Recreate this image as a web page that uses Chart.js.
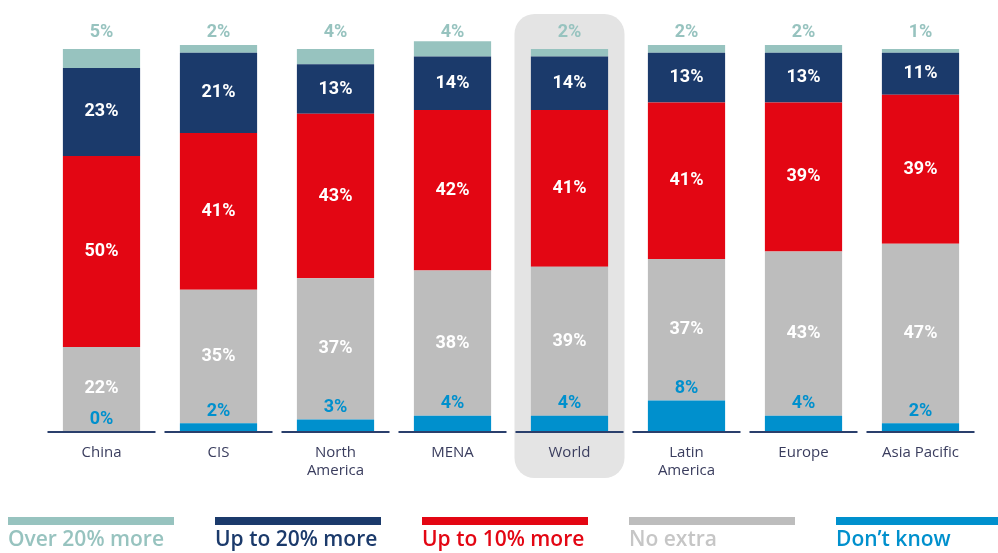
<!DOCTYPE html>
<html>
<head>
<meta charset="utf-8">
<script src="https://cdn.jsdelivr.net/npm/chart.js@4/dist/chart.umd.min.js"></script>
<style>
  html, body { margin: 0; padding: 0; background: #fff; }
  #wrap { width: 998px; height: 553px; position: relative; }
</style>
</head>
<body>
<div id="wrap"><canvas id="priceChart"></canvas></div>
<script>
const categories = ['China', 'CIS', ['North', 'America'], 'MENA', 'World', ['Latin', 'America'], 'Europe', 'Asia Pacific'];
const dontKnow = [0, 2, 3, 4, 4, 8, 4, 2];
const noExtra = [22, 35, 37, 38, 39, 37, 43, 47];
const upTo10 = [50, 41, 43, 42, 41, 41, 39, 39];
const upTo20 = [23, 21, 13, 14, 14, 13, 13, 11];
const over20 = [5, 2, 4, 4, 2, 2, 2, 1];
const seriesNames = ['Don\u2019t know', 'No extra', 'Up to 10% more', 'Up to 20% more', 'Over 20% more'];
const seriesColors = ['#0090cd', '#bdbdbd', '#e30613', '#1b3a6b', '#97c3bf'];
const highlightIndex = 4;

// grey rounded box behind the World column
const highlightBox = {
    id: 'highlightBox',
    beforeDraw(chart) {
        const ctx = chart.ctx;
        const x = chart.scales.x.getPixelForValue(highlightIndex);
        ctx.save();
        ctx.fillStyle = '#e4e4e4';
        ctx.beginPath();
        ctx.roundRect(x - 55, 14, 110, 464, 20);
        ctx.fill();
        ctx.restore();
    }
};

const valueLabels = {
    id: 'valueLabels',
    afterDatasetsDraw(chart) {
        const ctx = chart.ctx;
        const xs = chart.scales.x, ys = chart.scales.y;
        ctx.save();
        // short base lines under each bar
        ctx.strokeStyle = '#2a3f6c';
        ctx.lineWidth = 2;
        const y0 = ys.getPixelForValue(0) + 1;
        categories.forEach((c, j) => {
            const x = xs.getPixelForValue(j);
            ctx.beginPath();
            ctx.moveTo(x - 54, y0);
            ctx.lineTo(x + 54, y0);
            ctx.stroke();
        });
        ctx.font = '700 18px Roboto';
        ctx.textAlign = 'center';
        ctx.textBaseline = 'middle';
        const topY = ys.getPixelForValue(104.3);
        chart.data.datasets.forEach((ds, i) => {
            const meta = chart.getDatasetMeta(i);
            meta.data.forEach((bar, j) => {
                const txt = ds.data[j] + '%';
                let y;
                if (i === 0) {
                    ctx.fillStyle = seriesColors[0];
                    y = bar.y - 12;
                } else if (i === 4) {
                    ctx.fillStyle = seriesColors[4];
                    y = topY;
                } else {
                    ctx.fillStyle = '#ffffff';
                    y = (bar.y + bar.base) / 2;
                }
                ctx.fillText(txt, bar.x, y);
            });
        });
        ctx.restore();
    }
};

const lineLegend = {
    id: 'lineLegend',
    afterDraw(chart) {
        const ctx = chart.ctx;
        ctx.save();
        ctx.font = '600 21px "Open Sans"';
        ctx.textAlign = 'left';
        ctx.textBaseline = 'middle';
        const order = [4, 3, 2, 1, 0];
        order.forEach((i, k) => {
            const x = 8 + k * 207;
            ctx.fillStyle = seriesColors[i];
            ctx.fillRect(x, 517, 166, 8);
            ctx.fillStyle = i === 1 ? '#c6c6c6' : seriesColors[i];
            ctx.fillText(seriesNames[i], x, 540);
        });
        ctx.restore();
    }
};

const datasets = [dontKnow, noExtra, upTo10, upTo20, over20].map((vals, i) => ({
    label: seriesNames[i],
    data: vals,
    backgroundColor: seriesColors[i],
    borderWidth: 0,
    barPercentage: 0.66,
    categoryPercentage: 1.0
}));

const ctx = document.getElementById('priceChart').getContext('2d');
const priceChart = new Chart(ctx, {
    type: 'bar',
    data: {
        labels: categories,
        datasets: datasets
    },
    options: {
        responsive: true,
        maintainAspectRatio: false,
        animation: false,
        layout: {
            padding: { left: 43, right: 19, top: 0, bottom: 60 }
        },
        plugins: {
            legend: { display: false },
            tooltip: { enabled: false }
        },
        scales: {
            x: {
                stacked: true,
                grid: { display: false, drawTicks: false },
                border: { display: false },
                ticks: {
                    color: '#3a3d5e',
                    font: { family: '"Open Sans"', size: 15 },
                    padding: 13,
                    maxRotation: 0,
                    autoSkip: false
                }
            },
            y: {
                stacked: true,
                display: false,
                min: 0,
                max: 112.8
            }
        }
    },
    plugins: [highlightBox, valueLabels, lineLegend]
});
</script>
</body>
</html>
